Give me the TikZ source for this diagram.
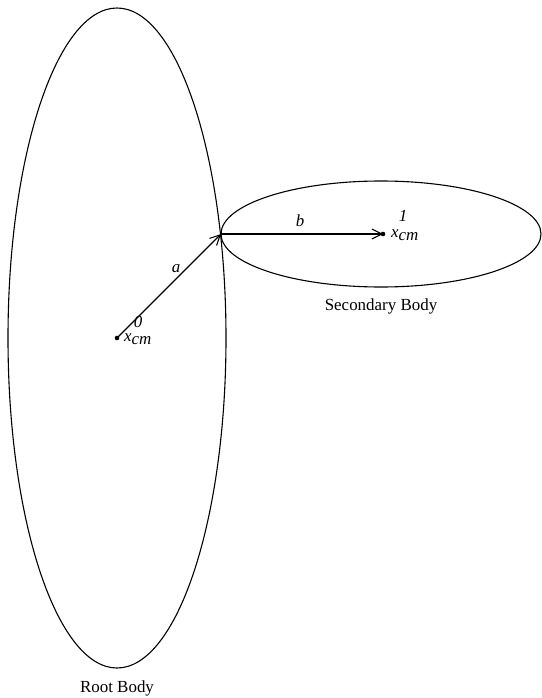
\documentclass[tikz,border=0pt]{standalone}
\usepackage{fontspec}
\setmainfont{Liberation Serif}
\usetikzlibrary{arrows.meta}
\begin{document}
\begin{tikzpicture}[x=1bp,y=-1bp,
  body/.style={draw,line width=1.1bp},
  vec/.style={draw,line width=1.1bp,-{Straight Barb[length=10bp,width=10bp,line width=1.1bp]}},
  lbl/.style={font=\fontsize{17}{19}\selectfont\itshape,inner sep=0pt},
  captext/.style={font=\fontsize{17}{19}\selectfont,inner sep=0pt}]
\useasboundingbox (0,0) rectangle (542,698);
\draw[body] (117,338) ellipse [x radius=109, y radius=330];
\draw[body] (381,234) ellipse [x radius=160, y radius=53];
\coordinate (c0) at (117,338);
\coordinate (j) at (221,234);
\coordinate (c1) at (383,234);
\fill (c0) circle (2.3);
\fill (c1) circle (2.3);
\draw[vec] (c0) -- (j);
\draw[vec] (j) -- (c1);
\node[lbl] (la) at (176,269) {a};
\node[lbl] (lb) at (300,221) {b};
\node[lbl,anchor=west] (x0) at (124,339) {x\raisebox{-0.4ex}{cm}};
\node[lbl] (s0) at (138,322) {0};
\node[lbl,anchor=west] (x1) at (391,235) {x\raisebox{-0.4ex}{cm}};
\node[lbl] (s1) at (403,216) {1};
\node[captext] (sec) at (381,306) {Secondary Body};
\node[captext] (root) at (117,688) {Root Body};
\end{tikzpicture}
\end{document}
